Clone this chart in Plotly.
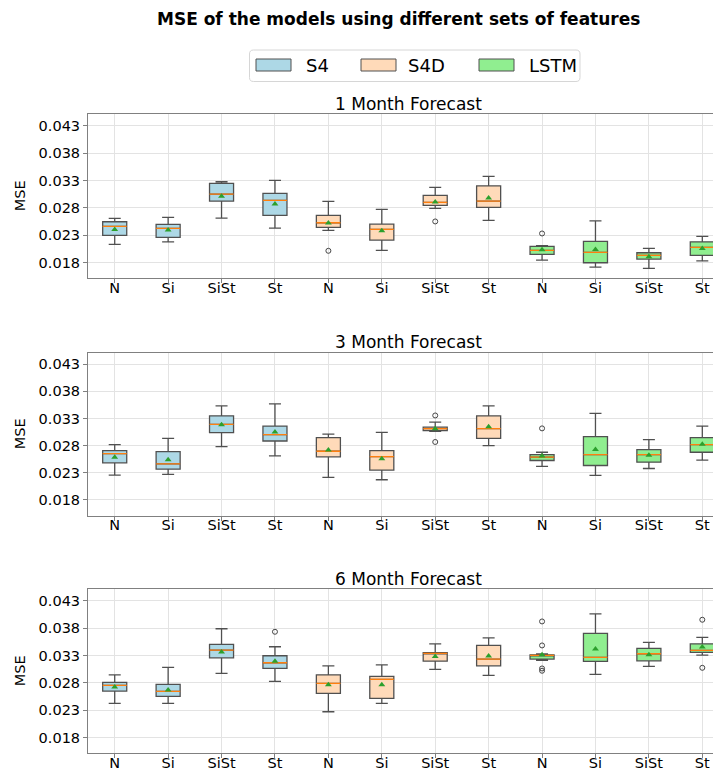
import plotly.graph_objects as go

# ---------------- data ----------------
features = ["N", "Si", "SiSt", "St"]
models = ["S4", "S4D", "LSTM"]
horizons = ["1 Month Forecast", "3 Month Forecast", "6 Month Forecast"]
y_ticks = [0.018, 0.023, 0.028, 0.033, 0.038, 0.043]

# order of boxes: S4 (N, Si, SiSt, St), S4D (...), LSTM (...)
lo_1m   = [0.02129, 0.02178, 0.02611, 0.02428, 0.02385, 0.02020, 0.02788, 0.02568, 0.01843, 0.01715, 0.01690, 0.01830]
q1_1m   = [0.02294, 0.02257, 0.02922, 0.02660, 0.02440, 0.02209, 0.02843, 0.02806, 0.01946, 0.01794, 0.01861, 0.01928]
med_1m  = [0.02459, 0.02422, 0.03050, 0.02934, 0.02526, 0.02404, 0.02898, 0.02922, 0.02020, 0.01983, 0.01928, 0.02074]
q3_1m   = [0.02544, 0.02495, 0.03245, 0.03062, 0.02660, 0.02501, 0.03026, 0.03202, 0.02093, 0.02184, 0.01977, 0.02178]
hi_1m   = [0.02605, 0.02623, 0.03276, 0.03300, 0.02916, 0.02770, 0.03172, 0.03373, 0.02105, 0.02562, 0.02056, 0.02276]
mean_1m = [0.02404, 0.02392, 0.03013, 0.02867, 0.02520, 0.02379, 0.02904, 0.02977, 0.02032, 0.02038, 0.01904, 0.02056]
out_1m  = [[], [], [], [], [0.02013], [], [0.02550], [], [0.02330], [], [], []]

lo_3m   = [0.02257, 0.02270, 0.02782, 0.02611, 0.02215, 0.02172, 0.03062, 0.02800, 0.02416, 0.02251, 0.02379, 0.02532]
q1_3m   = [0.02483, 0.02367, 0.03038, 0.02885, 0.02593, 0.02349, 0.03074, 0.02934, 0.02526, 0.02434, 0.02495, 0.02678]
med_3m  = [0.02654, 0.02465, 0.03190, 0.03001, 0.02696, 0.02599, 0.03111, 0.03111, 0.02587, 0.02635, 0.02635, 0.02818]
q3_3m   = [0.02709, 0.02690, 0.03349, 0.03160, 0.02946, 0.02709, 0.03141, 0.03349, 0.02635, 0.02965, 0.02727, 0.02946]
hi_3m   = [0.02818, 0.02934, 0.03532, 0.03568, 0.03013, 0.03044, 0.03233, 0.03532, 0.02678, 0.03392, 0.02910, 0.03160]
mean_3m = [0.02587, 0.02538, 0.03184, 0.03050, 0.02721, 0.02556, 0.03111, 0.03148, 0.02611, 0.02727, 0.02623, 0.02824]
out_3m  = [[], [], [], [], [], [], [0.03355, 0.02867], [], [0.03117], [], [], []]

lo_6m   = [0.02422, 0.02422, 0.02971, 0.02824, 0.02270, 0.02422, 0.03044, 0.02934, 0.03209, 0.02952, 0.03099, 0.03306]
q1_6m   = [0.02648, 0.02550, 0.03257, 0.03062, 0.02605, 0.02513, 0.03196, 0.03111, 0.03233, 0.03190, 0.03202, 0.03355]
med_6m  = [0.02751, 0.02641, 0.03398, 0.03166, 0.02788, 0.02861, 0.03337, 0.03233, 0.03300, 0.03263, 0.03331, 0.03392]
q3_6m   = [0.02806, 0.02770, 0.03501, 0.03294, 0.02946, 0.02916, 0.03349, 0.03483, 0.03312, 0.03702, 0.03428, 0.03513]
hi_6m   = [0.02946, 0.03080, 0.03788, 0.03459, 0.03111, 0.03129, 0.03513, 0.03623, 0.03330, 0.04062, 0.03538, 0.03629]
mean_6m = [0.02721, 0.02666, 0.03361, 0.03196, 0.02763, 0.02763, 0.03282, 0.03288, 0.03312, 0.03416, 0.03312, 0.03453]
out_6m  = [[], [], [], [0.03733], [], [], [], [], [0.03922, 0.03483, 0.03062, 0.03020], [], [], [0.03953, 0.03074]]

stats = [
    (lo_1m, q1_1m, med_1m, q3_1m, hi_1m, mean_1m, out_1m),
    (lo_3m, q1_3m, med_3m, q3_3m, hi_3m, mean_3m, out_3m),
    (lo_6m, q1_6m, med_6m, q3_6m, hi_6m, mean_6m, out_6m),
]

# ---------------- style ----------------
OFF = 8                      # default page body margin
W, H = 721 - OFF, 771 - OFF
PLOT_LEFT = 88               # page pixel of left axis edge
ML = PLOT_LEFT - OFF
fill_colors = {"S4": "#add8e6", "S4D": "#ffdab9", "LSTM": "#90ee90"}
edge = "#505050"
FONT = "DejaVu Sans"
BOX_W = 0.45

def pxx(px):
    """page pixel x -> paper x"""
    return (px - OFF - ML) / (W - ML)

def pxy(py):
    """page pixel y -> paper y"""
    return 1 - (py - OFF) / H

# page-pixel top/bottom of each axes
axes_px = [(114.3, 278.3), (352.7, 515.7), (589.3, 753.3)]

fig = go.Figure()
positions = list(range(len(models) * len(features)))

for k, (lo, q1, med, q3, hi, mn, outl) in enumerate(stats):
    xa = "x" if k == 0 else f"x{k+1}"
    ya = "y" if k == 0 else f"y{k+1}"
    for m_i, model in enumerate(models):
        sl = slice(m_i * 4, m_i * 4 + 4)
        fig.add_trace(go.Box(
            x=positions[sl], q1=q1[sl], median=med[sl], q3=q3[sl],
            lowerfence=lo[sl], upperfence=hi[sl],
            fillcolor=fill_colors[model], line=dict(color=edge, width=1.3),
            width=BOX_W, whiskerwidth=0.5, boxpoints=False, name=model,
            showlegend=False, xaxis=xa, yaxis=ya, hoverinfo="skip",
        ))
    # median lines
    mx, my = [], []
    for p, v in zip(positions, med):
        mx += [p - BOX_W / 2, p + BOX_W / 2, None]
        my += [v, v, None]
    fig.add_trace(go.Scatter(x=mx, y=my, mode="lines", line=dict(color="#ff7f0e", width=1.3),
                             showlegend=False, xaxis=xa, yaxis=ya, hoverinfo="skip"))
    # means
    fig.add_trace(go.Scatter(x=positions, y=mn, mode="markers",
                             marker=dict(symbol="triangle-up", color="#2ca02c", size=6,
                                         line=dict(width=0)),
                             showlegend=False, xaxis=xa, yaxis=ya, hoverinfo="skip"))
    # outliers
    ox, oy = [], []
    for p, vals in zip(positions, outl):
        for v in vals:
            ox.append(p)
            oy.append(v)
    fig.add_trace(go.Scatter(x=ox, y=oy, mode="markers",
                             marker=dict(symbol="circle-open", color="#444444", size=5,
                                         line=dict(width=1)),
                             showlegend=False, xaxis=xa, yaxis=ya, hoverinfo="skip"))

layout = dict(
    width=W, height=H,
    margin=dict(l=ML, r=0, t=0, b=0, pad=0),
    paper_bgcolor="white", plot_bgcolor="white",
    font=dict(family=FONT, size=14.5, color="black"),
    boxmode="overlay",
    showlegend=False,
)

annotations = []
for k, (top, bot) in enumerate(axes_px):
    sx = "" if k == 0 else str(k + 1)
    layout[f"xaxis{sx}"] = dict(
        domain=[0, 1], anchor=f"y{sx}", range=[-0.5, 11.35],
        tickvals=positions, ticktext=features * len(models),
        showgrid=True, gridcolor="#e3e3e3", gridwidth=1, zeroline=False,
        showline=True, linecolor="#808080", linewidth=1, mirror=True,
        ticks="outside", ticklen=4, tickcolor="#808080", ticklabelstandoff=-8,
        tickfont=dict(family=FONT, size=14.5, color="black"), automargin=False,
    )
    layout[f"yaxis{sx}"] = dict(
        domain=[pxy(bot), pxy(top)], anchor=f"x{sx}", range=[0.0151, 0.0451],
        tickvals=y_ticks, ticktext=[f"{v:.3f}" for v in y_ticks],
        showgrid=True, gridcolor="#e3e3e3", gridwidth=1, zeroline=False,
        showline=True, linecolor="#808080", linewidth=1, mirror=False,
        ticks="outside", ticklen=4, tickcolor="#808080",
        tickfont=dict(family=FONT, size=14.5, color="black"), automargin=False,
    )
    annotations.append(dict(
        text=horizons[k], xref="paper", yref="paper", x=pxx(408.5), y=pxy(top - 10.5),
        xanchor="center", yanchor="middle", showarrow=False,
        font=dict(family=FONT, size=17, color="black")))
    annotations.append(dict(
        text="MSE", xref="paper", yref="paper", x=pxx(20), y=pxy((top + bot) / 2),
        xanchor="center", yanchor="middle", showarrow=False, textangle=-90,
        font=dict(family=FONT, size=14.5, color="black")))

# suptitle
annotations.append(dict(
    text="<b>MSE of the models using different sets of features</b>", xref="paper", yref="paper",
    x=pxx(398), y=1.0, xanchor="center", yanchor="top", showarrow=False, borderpad=0,
    font=dict(family=FONT, size=17, color="black")))

# manual legend
shapes = []
def rounded_rect_path(x0, y0, x1, y1, r):
    pts = [
        ("M", [(x0 + r, y0)]), ("L", [(x1 - r, y0)]), ("Q", [(x1, y0), (x1, y0 + r)]),
        ("L", [(x1, y1 - r)]), ("Q", [(x1, y1), (x1 - r, y1)]), ("L", [(x0 + r, y1)]),
        ("Q", [(x0, y1), (x0, y1 - r)]), ("L", [(x0, y0 + r)]), ("Q", [(x0, y0), (x0 + r, y0)]),
    ]
    s = ""
    for cmd, ps in pts:
        s += cmd + " " + " ".join(f"{pxx(a):.5f},{pxy(b):.5f}" for a, b in ps) + " "
    return s + "Z"

shapes.append(dict(type="path", xref="paper", yref="paper",
                   path=rounded_rect_path(249.5, 50, 580, 81.5, 4),
                   line=dict(color="#d6d6d6", width=1), fillcolor="rgba(255,255,255,0.8)"))
legend_items = [(256, 304), (361, 406), (479, 527)]
for (patch_x, text_x), model in zip(legend_items, models):
    shapes.append(dict(type="rect", xref="paper", yref="paper",
                       x0=pxx(patch_x), x1=pxx(patch_x + 35), y0=pxy(71), y1=pxy(59),
                       fillcolor=fill_colors[model], line=dict(color=edge, width=1)))
    annotations.append(dict(text=model, xref="paper", yref="paper", x=pxx(text_x), y=pxy(65.5),
                            xanchor="left", yanchor="middle", showarrow=False,
                            font=dict(family=FONT, size=18, color="black")))

layout["annotations"] = annotations
layout["shapes"] = shapes
fig.update_layout(**layout)

fig.write_html("out.html")
